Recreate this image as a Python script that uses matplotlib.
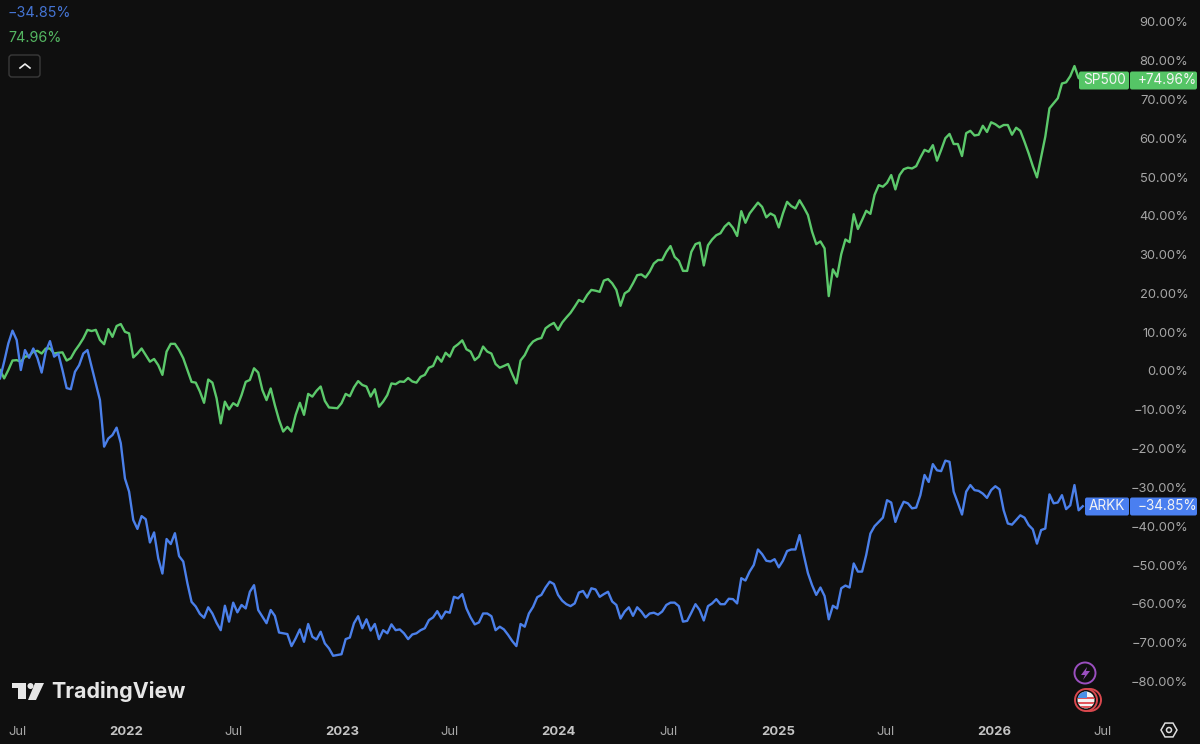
import numpy as np
import pandas as pd
import matplotlib
matplotlib.use('Agg')
import matplotlib.pyplot as plt
from matplotlib.patches import Circle, FancyBboxPatch, Polygon, Rectangle, RegularPolygon

plt.rcParams['font.family'] = ['Inter', 'DejaVu Sans']

# weekly closes, % change from the first bar
sp500 = [0.25, -1.9, 0.25, 2.7, 2.8, 2.4, 3.7, 3.9, 5, 5.2, 4.5, 5.8, 5.8, 4.5, 4.7, 4.8, 2.7, 3.3, 5.2, 6.7,
         8.4, 10.6, 10.3, 10.6, 8, 6.9, 10.8, 8.8, 11.6, 12.1, 10.1, 9.7, 3.5, 4.5, 5.8, 4.1, 2.4, 3.1, 1.5, -1,
         5, 7, 7, 5.4, 3.3, 0.25, -2.8, -3, -5.3, -8.2, -2.2, -3, -7, -13.5, -7.9, -9.9, -8.3, -9, -6.2, -2.8,
         -2.3, 0.7, -0.4, -4.9, -7.5, -4.5, -8.8, -12.6, -15.6, -14.4, -15.6,
         -11.3, -8.2, -11.3, -5.9, -6.6, -5.1, -4, -7.7, -9.4, -9.5, -9.6, -8.3, -5.9, -6.5, -4.2, -2.6, -3.6, -4,
         -6.6, -4.7, -9.2, -7.9, -6.2, -3.2, -3.4, -2.7, -2.8, -1.8, -2.7, -3, -1.5, -1, 0.85, 1.3, 3.7, 2.4, 4.7,
         3.7, 6.1, 6.9, 7.9, 5.6, 5, 2.8, 3.7, 6.3, 5, 4.5, 1.8, 0.85, 1.3, 1.8, -0.8, -3.2, 2.7, 4.1, 6.3, 7.6,
         8.2, 8.5, 11, 11.8, 12.4, 10.6, 12.5, 13.8, 15, 16.6, 18.3, 17.8, 19.6, 20.9,
         20.7, 20.4, 23.3, 23.7, 22.6, 20.9, 16.8, 20, 20.7, 22.6, 24.7, 24.9, 24.1, 25.6, 27.7, 28.6, 28.6, 30.7,
         32.2, 29.4, 28.4, 25.8, 25.8, 30.7, 32.7, 33.1, 27.2, 32.4, 33.9, 35, 35.5, 37.2, 38.2, 36.9, 34.8, 41.2,
         38.2, 40.6, 42, 43.4, 42.3, 39.6, 40.6, 40, 37, 40.6, 43.6, 42.5, 41.9, 44, 42.2, 40.2, 35.9, 32.7, 33.4,
         31.6, 19.3, 26.2, 24.3, 30.1, 33.9, 33.2, 40.4, 36.6, 38.9, 41.3, 40.5,
         45.4, 47.9, 47.5, 48.5, 50.5, 46.8, 50.5, 52, 52.4, 52.2, 52.8, 55, 57, 56.5, 58.2, 54.2, 57, 60, 61.1,
         58.5, 58.5, 55.4, 61.3, 61.9, 60.7, 60.9, 63.2, 61.6, 64.1, 63.6, 62.8, 63.4, 63.4, 60.9, 62.7, 61.9,
         59.1, 56.1, 52.8, 49.9, 55.2, 60.4, 67.7, 69, 70.3, 74.1, 74.4, 76, 78.6, 75.5, 74.96]

arkk = [-1.9, 2.4, 7.1, 10.4, 8, 0.25, 5.4, 3.4, 5.8, 3.3, -0.4, 5, 7.7, 3.7, 4.5, 0.25, -4.4, -4.7, -0.2, 1.5,
        4.5, 5.4, 1.1, -3.2, -7.5, -19.5, -17.4, -16.5, -14.6, -18.6, -27.7, -31.1, -38.4, -40.7, -37.4, -38.2,
        -44.2, -41.6, -48.3, -52.2, -43.3, -44.6, -41.8, -47.7, -49.1, -54.7, -59.5, -60.7, -62.6, -63.6, -60.9,
        -62.5, -64.9, -66.8, -60.5, -64.6, -59.7, -62.2, -60.3, -61.2, -56.9, -55.2, -61.6, -63.3, -65, -61.6,
        -63.1, -67.4, -67.6, -67.8, -70.9,
        -68.9, -66.6, -69.8, -65.2, -68.5, -69.2, -67.2, -70.2, -71.5, -73.4, -73.2, -73, -69.1, -68.7, -65, -63.2,
        -66.3, -64, -66.9, -65.2, -69.1, -66.8, -67.6, -65.3, -66.8, -66.6, -67.6, -69.1, -67.9, -67.6, -66.8,
        -66.3, -64.2, -63.5, -61.9, -63.8, -62, -62.3, -58.2, -58.6, -57.5, -61.2, -63.5, -65.3, -64.8, -62.5,
        -62.5, -63.2, -66.8, -65.9, -66.6, -68, -69.6, -70.9, -65.2, -65.9, -62.5, -60.8, -58.3, -57.7, -55.8,
        -54.3, -54.9, -57.7, -59.2, -60.1, -60.6, -59.9, -57.1, -56.7, -58.4, -56,
        -56.3, -58.2, -57.5, -56.9, -59.4, -60.3, -63.8, -62, -60.9, -63.1, -60.9, -62, -63.5, -62.5, -62.3, -62.8,
        -62, -60.3, -59.7, -59.7, -60.6, -64.6, -64.4, -62.3, -60.1, -61.6, -64.3, -60.6, -59.9, -58.8, -60.1,
        -60.1, -58.7, -58.8, -59.9, -53.4, -54, -51.7, -50, -46, -47.2, -48.9, -49.1, -48.5, -50.6, -48.9, -46.4,
        -46, -46, -42.3, -47.4, -52.1, -55.2, -57.7, -55.8, -58, -64, -60.5, -61.2, -56, -55.3, -55.8, -49.6,
        -51.7, -51.7, -47.4, -41.9,
        -40, -38.9, -37.8, -33.3, -33.9, -38.9, -35.9, -33.7, -34.1, -35.4, -35.2, -32, -26.8, -28.6, -24, -25.6,
        -25.8, -23.1, -23.4, -31.1, -34, -37, -31.1, -29.4, -30.7, -30.9, -31.6, -32.7, -30.7, -29.7, -30.5, -35.9,
        -39.3, -39.6, -38.4, -37.2, -37.8, -39.7, -40.8, -44.5, -41, -40.6, -31.8, -34.1, -33.9, -32, -35.6, -34.6,
        -29.4, -35.9, -34.85]

y_ticks = list(range(-80, 100, 10))
x_tick_dates = ['2021-07-16', '2022-01-14', '2022-07-14', '2023-01-12', '2023-07-12', '2024-01-10',
                '2024-07-13', '2025-01-14', '2025-07-14', '2026-01-12', '2026-07-13']
x_tick_labels = ['Jul', '2022', 'Jul', '2023', 'Jul', '2024', 'Jul', '2025', 'Jul', '2026', 'Jul']

bg = '#0f0f0f'
green = '#5cc96b'
blue = '#4b80ea'
grey = '#a6a6a6'

fig = plt.figure(figsize=(12, 7.44), dpi=100, facecolor=bg)

# plot pane runs to x=1130, time scale below y=714
ax = fig.add_axes([0, 30 / 744, 1130 / 1200, 714 / 744], facecolor=bg)
start = pd.Timestamp('2021-06-16')
px_per_day = 217.3 / 365.25
ax.set_xlim(start, start + pd.Timedelta(days=1130 / px_per_day))
ax.set_ylim((371 - 714) / 3.88, 371 / 3.88)

dates_sp = pd.date_range(start, periods=len(sp500), freq='7D')
dates_ark = pd.date_range(start, periods=len(arkk), freq='7D')
ax.plot(dates_sp, sp500, color=green, lw=1.7, solid_joinstyle='round')
ax.plot(dates_ark, arkk, color=blue, lw=1.7, solid_joinstyle='round')

for s in ax.spines.values():
    s.set_visible(False)
ax.yaxis.tick_right()
ax.set_yticks(y_ticks)
ax.set_yticklabels([('\u2212' if v < 0 else '') + '%.2f%%' % abs(v) for v in y_ticks],
                   ha='right', color=grey, fontsize=9.3)
ax.tick_params(axis='y', length=0, pad=42)
ax.set_xticks(pd.to_datetime(x_tick_dates))
ax.set_xticklabels(x_tick_labels, fontsize=9.4, color=grey)
for lab, txt in zip(ax.get_xticklabels(), x_tick_labels):
    if txt != 'Jul':
        lab.set_fontweight('bold')
        lab.set_color('#c4c4c4')
ax.tick_params(axis='x', length=0, pad=8.5)

# overlay in pixel coordinates for badges, logo, icons
ov = fig.add_axes([0, 0, 1, 1], facecolor='none')
ov.set_xlim(0, 1200)
ov.set_ylim(744, 0)
ov.axis('off')

ov.text(8, 13, '\u221234.85%', color=blue, fontsize=10.3, va='center', alpha=0.9)
ov.text(8, 38, '74.96%', color=green, fontsize=10.3, va='center', alpha=0.9)
ov.add_patch(FancyBboxPatch((9, 55), 31, 22, boxstyle='round,pad=0,rounding_size=3', fc='none', ec='#3a3a3a', lw=1))
ov.plot([20, 25, 30], [68, 64, 68], color='#eeeeee', lw=1.2)


def badge(y, left, name, value, color):
    ov.add_patch(FancyBboxPatch((left, y - 9), 1129 - left, 18, boxstyle='round,pad=0,rounding_size=2', fc=color, ec='none'))
    ov.add_patch(FancyBboxPatch((1130, y - 9), 67, 18, boxstyle='round,pad=0,rounding_size=2', fc=color, ec='none'))
    ov.text((left + 1129) / 2, y, name, color='#f4f4f4', fontsize=9.8, ha='center', va='center')
    ov.text(1167, y, value, color='#f4f4f4', fontsize=9.8, ha='center', va='center')


badge(80.5, 1079, 'SP500', '+74.96%', '#55c566')
badge(506.5, 1085, 'ARKK', '\u221234.85%', '#4a7ff0')

# TradingView mark
logo = '#e6e6e6'
ov.add_patch(Polygon([(12, 683), (26, 683), (26, 699), (18, 699), (18, 688), (12, 688)], fc=logo, ec='none'))
ov.add_patch(Circle((30.5, 686), 3, fc=logo, ec='none'))
ov.add_patch(Polygon([(35, 683), (44, 683), (36, 700), (28, 700)], fc=logo, ec='none'))
ov.text(51, 692, 'TradingView', color=logo, fontsize=15.4, fontweight='bold', va='center')

# event icons on the time scale
ov.add_patch(Circle((1085, 673), 10.5, fc='none', ec='#9b4fc0', lw=1.4))
ov.add_patch(Polygon([(1087, 667), (1081, 675), (1085, 675), (1083, 680), (1090, 671), (1086, 671)], fc='#9b4fc0', ec='none'))
ov.add_patch(Circle((1090, 700), 11, fc=bg, ec='#d9484e', lw=1.4))
ov.add_patch(Circle((1086, 700), 11, fc=bg, ec='#d9484e', lw=1.4))
flag = Circle((1086, 700), 8.5, fc='#f2f2f2', ec='none')
ov.add_patch(flag)
for yy in (697, 702, 706):
    r = Rectangle((1076, yy), 20, 2, fc='#e0565c', ec='none')
    ov.add_patch(r)
    r.set_clip_path(flag)
r = Rectangle((1076, 690), 11, 8, fc='#4a90e8', ec='none')
ov.add_patch(r)
r.set_clip_path(flag)

# settings gear
ov.add_patch(RegularPolygon((1169, 730), 6, radius=8, orientation=np.pi / 2, fc='none', ec='#dddddd', lw=1.1))
ov.add_patch(Circle((1169, 730), 2.5, fc='none', ec='#dddddd', lw=1.1))

fig.savefig('out.png', dpi=100, facecolor=bg)
